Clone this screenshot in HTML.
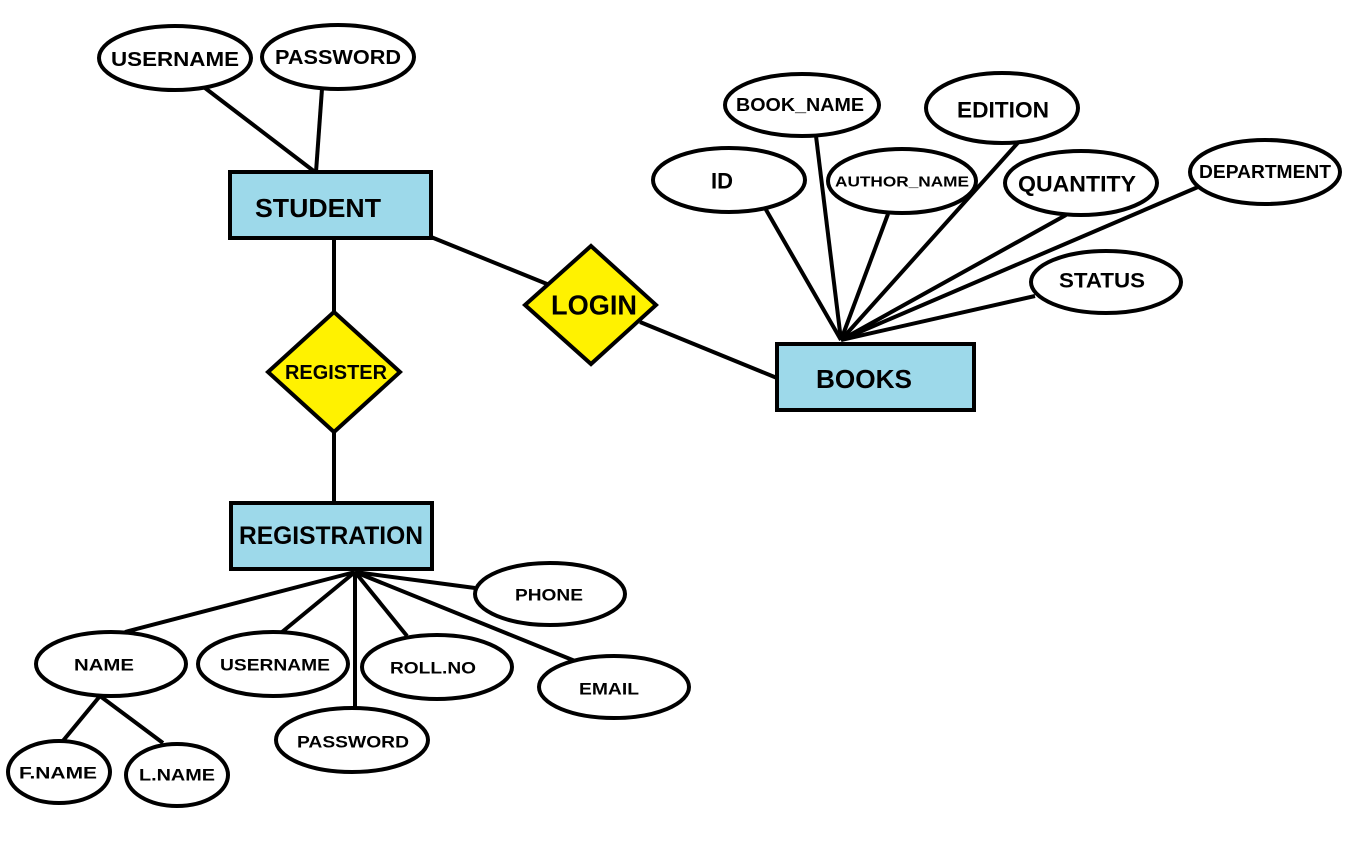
<!DOCTYPE html>
<html><head><meta charset="utf-8"><style>
html,body{margin:0;padding:0;background:#fff;}
svg{display:block;}
text{font-family:"Liberation Sans",sans-serif;font-weight:bold;fill:#000;text-anchor:middle;dominant-baseline:central;}
</style></head><body>
<svg width="1362" height="848" viewBox="0 0 1362 848" xmlns="http://www.w3.org/2000/svg">
<g stroke="#000" stroke-width="4" fill="none">
<line x1="205" y1="88" x2="315" y2="172"/>
<line x1="322" y1="89" x2="316" y2="172"/>
<line x1="334" y1="238" x2="334" y2="312"/>
<line x1="334" y1="432" x2="334" y2="503"/>
<line x1="431" y1="237" x2="547" y2="284"/>
<line x1="640" y1="322" x2="777" y2="378"/>
<line x1="841" y1="340" x2="765" y2="208"/>
<line x1="841" y1="340" x2="816" y2="136"/>
<line x1="841" y1="340" x2="888" y2="214"/>
<line x1="841" y1="340" x2="1024" y2="136"/>
<line x1="841" y1="340" x2="1066" y2="215"/>
<line x1="841" y1="340" x2="1198" y2="187"/>
<line x1="841" y1="340" x2="1035" y2="296"/>
<line x1="355" y1="572" x2="125" y2="632"/>
<line x1="355" y1="572" x2="282" y2="632"/>
<line x1="355" y1="572" x2="355" y2="708"/>
<line x1="355" y1="572" x2="407" y2="636"/>
<line x1="355" y1="572" x2="475" y2="588"/>
<line x1="355" y1="572" x2="575" y2="661"/>
<line x1="100" y1="696" x2="62" y2="742"/>
<line x1="100" y1="696" x2="163" y2="743"/>
</g>
<g stroke="#000" stroke-width="4" fill="#fff">
<ellipse cx="175" cy="58" rx="76" ry="32"/>
<ellipse cx="338" cy="57" rx="76" ry="32"/>
<ellipse cx="729" cy="180" rx="76" ry="32"/>
<ellipse cx="802" cy="105" rx="77" ry="31"/>
<ellipse cx="902" cy="181" rx="74" ry="32"/>
<ellipse cx="1002" cy="108" rx="76" ry="35"/>
<ellipse cx="1081" cy="183" rx="76" ry="32"/>
<ellipse cx="1265" cy="172" rx="75" ry="32"/>
<ellipse cx="1106" cy="282" rx="75" ry="31"/>
<ellipse cx="111" cy="664" rx="75" ry="32"/>
<ellipse cx="273" cy="664" rx="75" ry="32"/>
<ellipse cx="352" cy="740" rx="76" ry="32"/>
<ellipse cx="437" cy="667" rx="75" ry="32"/>
<ellipse cx="550" cy="594" rx="75" ry="31"/>
<ellipse cx="614" cy="687" rx="75" ry="31"/>
<ellipse cx="59" cy="772" rx="51" ry="31"/>
<ellipse cx="177" cy="775" rx="51" ry="31"/>
</g>
<g stroke="#000" stroke-width="4" fill="#9dd9ea">
<rect x="230" y="172" width="201" height="66"/>
<rect x="231" y="503" width="201" height="66"/>
<rect x="777" y="344" width="197" height="66"/>
</g>
<g stroke="#000" stroke-width="4" fill="#fff200">
<polygon points="334,312 400,372 334,432 268,372"/>
<polygon points="591,246 656,305 591,364 525,305"/>
</g>
<text x="175" y="60" font-size="20" textLength="128" lengthAdjust="spacingAndGlyphs">USERNAME</text>
<text x="338" y="58" font-size="20" textLength="126" lengthAdjust="spacingAndGlyphs">PASSWORD</text>
<text x="318" y="208" font-size="26" textLength="126" lengthAdjust="spacingAndGlyphs">STUDENT</text>
<text x="336" y="373" font-size="20" textLength="102" lengthAdjust="spacingAndGlyphs">REGISTER</text>
<text x="594" y="305" font-size="28" textLength="86" lengthAdjust="spacingAndGlyphs">LOGIN</text>
<text x="331" y="536" font-size="25" textLength="184" lengthAdjust="spacingAndGlyphs">REGISTRATION</text>
<text x="864" y="379" font-size="26" textLength="96" lengthAdjust="spacingAndGlyphs">BOOKS</text>
<text x="722" y="181" font-size="22" textLength="22" lengthAdjust="spacingAndGlyphs">ID</text>
<text x="800" y="105" font-size="18" textLength="128" lengthAdjust="spacingAndGlyphs">BOOK_NAME</text>
<text x="902" y="182" font-size="15" textLength="134" lengthAdjust="spacingAndGlyphs">AUTHOR_NAME</text>
<text x="1003" y="110" font-size="22" textLength="92" lengthAdjust="spacingAndGlyphs">EDITION</text>
<text x="1077" y="184" font-size="22" textLength="118" lengthAdjust="spacingAndGlyphs">QUANTITY</text>
<text x="1265" y="172" font-size="18" textLength="132" lengthAdjust="spacingAndGlyphs">DEPARTMENT</text>
<text x="1102" y="281" font-size="21" textLength="86" lengthAdjust="spacingAndGlyphs">STATUS</text>
<text x="104" y="665" font-size="17" textLength="60" lengthAdjust="spacingAndGlyphs">NAME</text>
<text x="275" y="665" font-size="17" textLength="110" lengthAdjust="spacingAndGlyphs">USERNAME</text>
<text x="353" y="742" font-size="17" textLength="112" lengthAdjust="spacingAndGlyphs">PASSWORD</text>
<text x="433" y="668" font-size="17" textLength="86" lengthAdjust="spacingAndGlyphs">ROLL.NO</text>
<text x="549" y="595" font-size="17" textLength="68" lengthAdjust="spacingAndGlyphs">PHONE</text>
<text x="609" y="689" font-size="17" textLength="60" lengthAdjust="spacingAndGlyphs">EMAIL</text>
<text x="58" y="773" font-size="17" textLength="78" lengthAdjust="spacingAndGlyphs">F.NAME</text>
<text x="177" y="775" font-size="17" textLength="76" lengthAdjust="spacingAndGlyphs">L.NAME</text>
</svg>
</body></html>
